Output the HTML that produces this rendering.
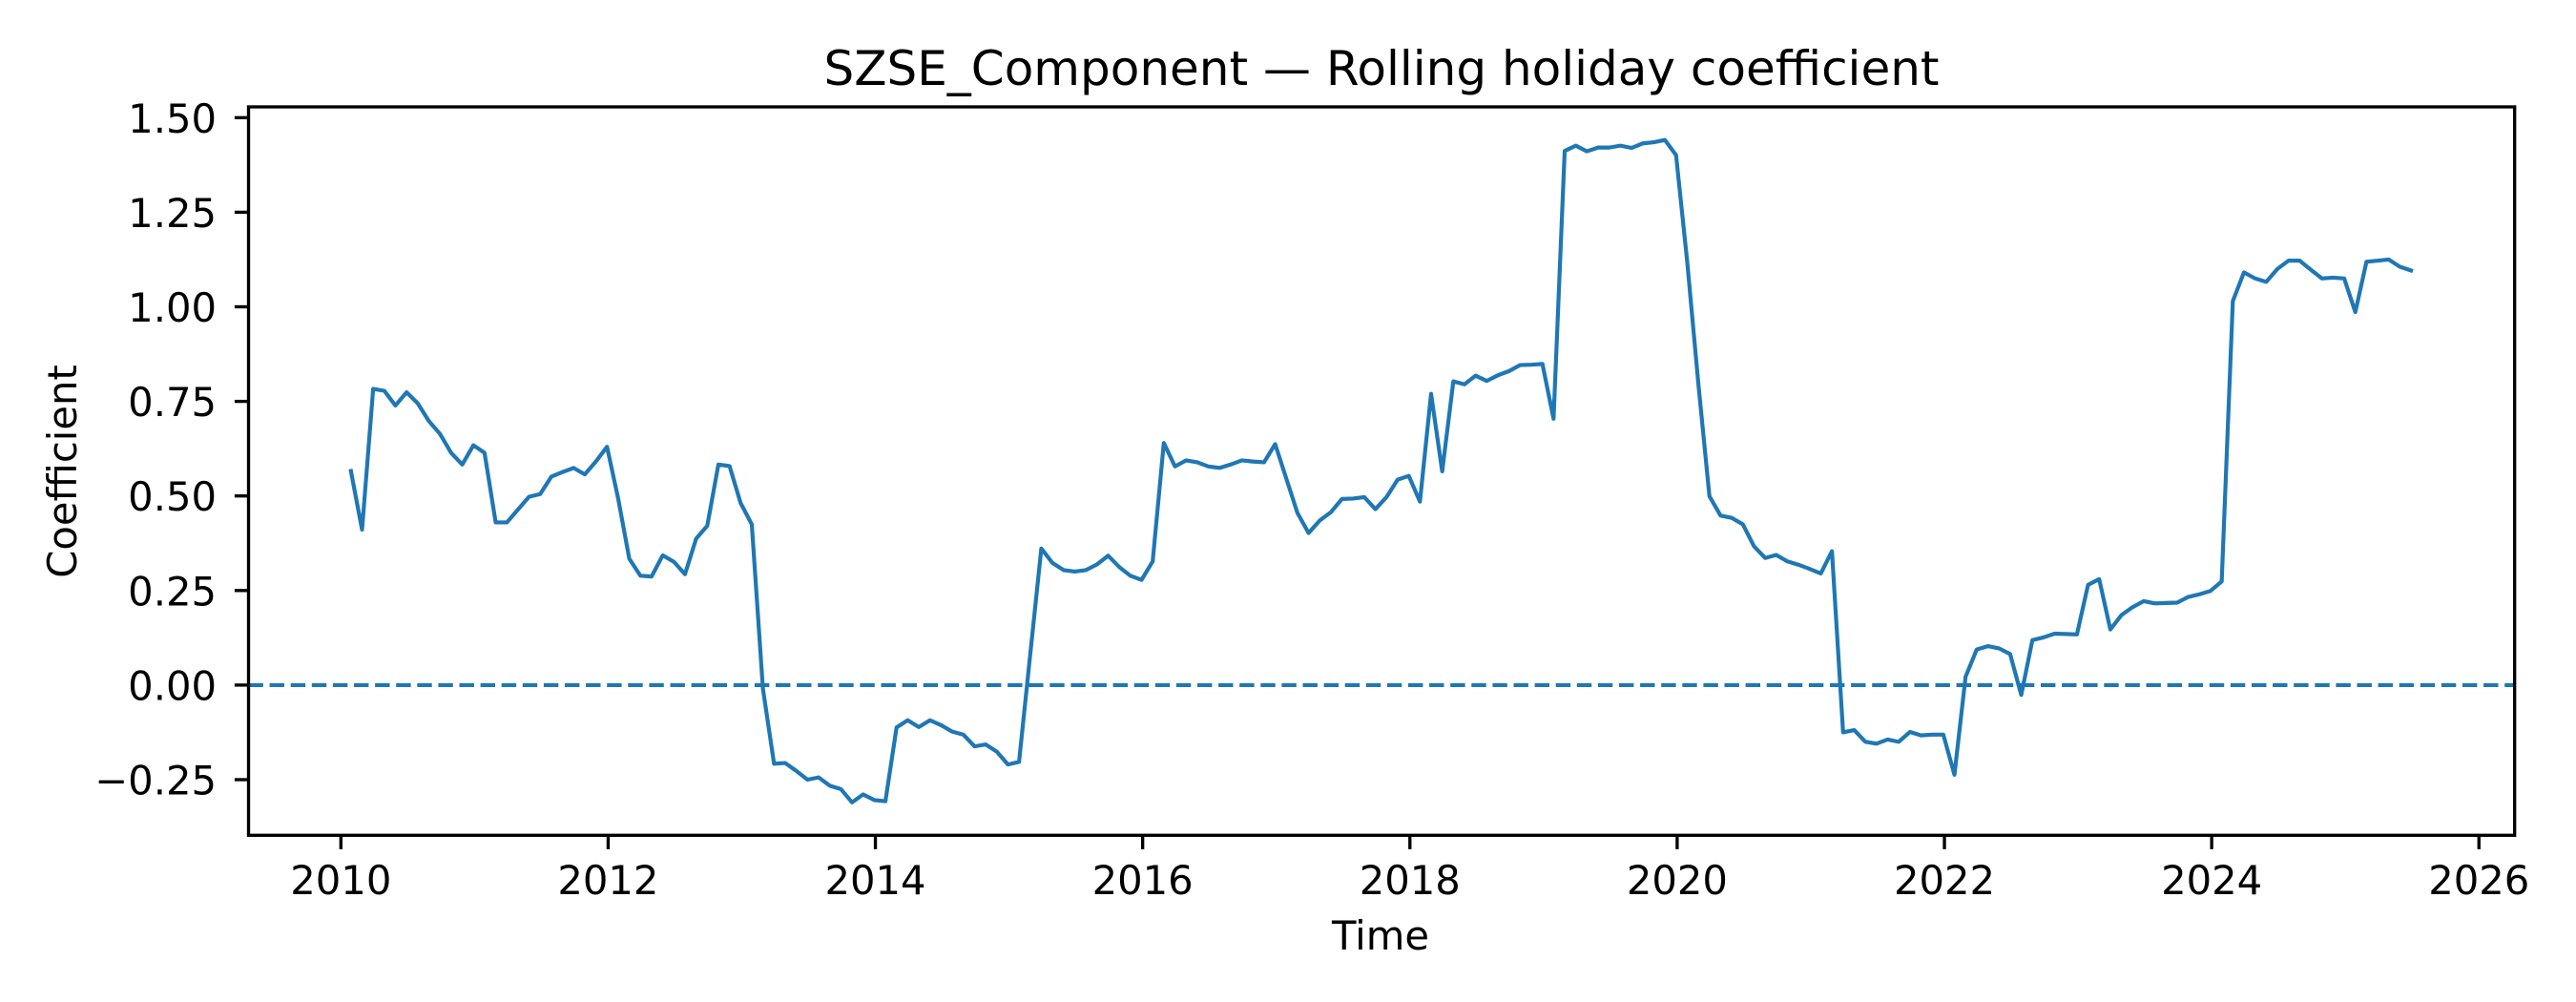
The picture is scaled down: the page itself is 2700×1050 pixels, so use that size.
<!DOCTYPE html>
<html><head><meta charset="utf-8"><style>
html,body{margin:0;padding:0;background:#fff;}
svg{display:block;}
text{font-family:"DejaVu Sans","Liberation Sans",sans-serif;fill:#000;}
</style></head><body>
<svg id="chart" width="2700" height="1050" viewBox="0 0 2700 1050" xmlns="http://www.w3.org/2000/svg">
<rect x="0" y="0" width="2700" height="1050" fill="#fff"/>
<text x="1448" y="89" font-size="50" text-anchor="middle">SZSE_Component — Rolling holiday coefficient</text>
<g id="plot"></g>
<g id="axes"></g>
<text x="1447" y="995" font-size="41.7" text-anchor="middle">Time</text>
<text transform="translate(80,494) rotate(-90)" font-size="41.7" text-anchor="middle">Coefficient</text>
</svg>
<script>
const startYear = 2010.075;
const stepYears = 1/12;
const coefValues = [
0.566,0.411,0.783,0.778,0.739,0.774,0.745,0.698,0.664,0.614,0.583,0.634,0.614,0.430,0.430,0.464,0.498,0.505,0.551,0.563,0.574,0.557,0.591,0.630,0.493,0.334,0.289,0.287,0.343,0.326,0.293,0.387,0.421,0.583,0.579,0.481,0.425,-0.01,-0.208,-0.206,-0.227,-0.250,-0.244,-0.266,-0.275,-0.310,-0.289,-0.304,-0.307,-0.112,
-0.093,-0.111,-0.093,-0.106,-0.123,-0.131,-0.162,-0.157,-0.176,-0.210,-0.203,0.08,0.361,0.323,0.304,0.300,0.304,0.319,0.342,0.312,0.289,0.278,0.327,0.640,0.578,0.594,0.589,0.578,0.574,0.583,0.594,0.591,0.589,0.637,0.546,0.455,0.402,0.435,0.457,0.492,0.493,0.497,0.465,0.497,0.543,0.553,0.485,0.770,
0.565,0.803,0.795,0.818,0.804,0.819,0.830,0.846,0.847,0.849,0.704,1.412,1.426,1.411,1.421,1.421,1.426,1.420,1.432,1.435,1.441,1.401,1.12,0.797,0.499,0.448,0.442,0.425,0.367,0.336,0.344,0.327,0.318,0.307,0.295,0.354,-0.125,-0.119,-0.150,-0.155,-0.144,-0.150,-0.124,-0.133,-0.131,-0.131,
-0.237,0.022,0.094,0.103,0.097,0.082,-0.026,0.119,0.126,0.136,0.135,0.134,0.265,0.280,0.147,0.185,0.206,0.222,0.216,0.217,0.218,0.233,0.240,0.249,0.274,1.015,1.091,1.075,1.066,1.100,1.122,1.122,1.098,1.075,1.077,1.075,0.986,1.119,1.122,1.125,1.106,1.096
];
const xTickValues = [2010,2012,2014,2016,2018,2020,2022,2024,2026];
const yTickValues = [-0.25,0,0.25,0.5,0.75,1.0,1.25,1.5];
const yTickLabels = ["\u22120.25","0.00","0.25","0.50","0.75","1.00","1.25","1.50"];
const referenceValue = 0;

const NS = "http://www.w3.org/2000/svg";
const L = 260.5, R = 2635.7, T = 112, B = 875.3;
function xScale(yr){ return 357.3 + (yr - 2010) * 140.06; }
function yScale(v){ return 717.9 - v * 396.4; }
function mk(tag, attrs, parent){ const e=document.createElementNS(NS,tag); for(const k in attrs) e.setAttribute(k, attrs[k]); parent.appendChild(e); return e; }

const plot = document.getElementById('plot');
const axes = document.getElementById('axes');

const ref = mk('line',{x1:L,x2:R,y1:yScale(referenceValue),y2:yScale(referenceValue),stroke:'#1f77b4','stroke-width':4.17,'stroke-dasharray':'15.4 6.7'},plot);



let d = '';
coefValues.forEach((v,i)=>{ const x=xScale(startYear+i*stepYears), y=yScale(v); d += (i?'L':'M')+x.toFixed(2)+' '+y.toFixed(2); });
const line = mk('path',{d:d,fill:'none',stroke:'#1f77b4','stroke-width':4.17,'stroke-linejoin':'round','stroke-linecap':'square'},plot);



const frame = mk('rect',{x:L,y:T,width:R-L,height:B-T,fill:'none',stroke:'#000','stroke-width':3.33},axes);



xTickValues.forEach(t=>{
  const x = xScale(t);
  const tk = mk('line',{x1:x,x2:x,y1:B,y2:B+14.6,stroke:'#000','stroke-width':3.33},axes);
  
  
  const lb = mk('text',{x:x,y:937,'font-size':41.7,'text-anchor':'middle'},axes);
  lb.textContent = String(t);
  
  
});
yTickValues.forEach((v,i)=>{
  const y = yScale(v);
  const tk = mk('line',{x1:L-14.6,x2:L,y1:y,y2:y,stroke:'#000','stroke-width':3.33},axes);
  
  
  const lb = mk('text',{x:227,y:y+15.5,'font-size':41.7,'text-anchor':'end'},axes);
  lb.textContent = yTickLabels[i];
  
  
});
</script>
</body></html>
